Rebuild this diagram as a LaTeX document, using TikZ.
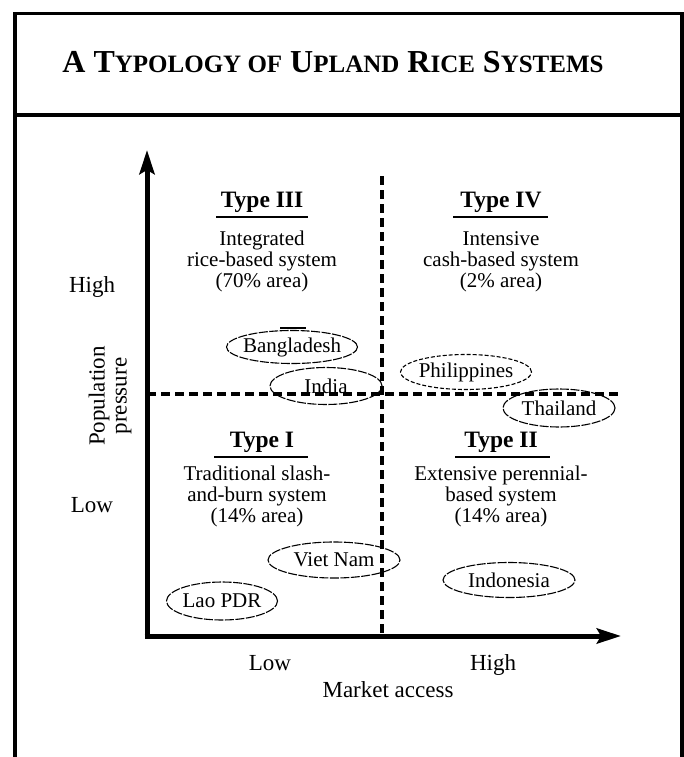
\documentclass[tikz,border=0pt]{standalone}
\usepackage{fontspec}
\setmainfont{Liberation Serif}
\usetikzlibrary{arrows.meta, shapes.geometric}
\newcommand\bodyfont{\fontsize{21}{21}\selectfont}
\newcommand\headfont{\fontsize{23.5}{24}\selectfont\bfseries}
\newcommand\axisfont{\fontsize{23}{22}\selectfont}
\newcommand\smc[1]{{\fontsize{25}{30}\selectfont #1}}
\tikzset{
frame/.style={line width=3.5pt}, % outer box and title rule
axis/.style={line width=5pt, -{Stealth[length=24pt, width=15pt, inset=4pt]}},
divider/.style={line width=3.2pt, dash pattern=on 9pt off 5pt},
country/.style={ellipse, draw, line width=1.1pt, dash pattern=on 9pt off 1.5pt,
  inner sep=0pt, label={[font=\bodyfont]center:#1}},
typehead/.style={font=\headfont, anchor=base},
typetext/.style={font=\bodyfont, align=center, anchor=base}, % base = last line
axislabel/.style={font=\axisfont, anchor=base},
underline/.style={line width=2.8pt},
}
\begin{document}
\begin{tikzpicture}[x=1pt, y=-1pt]
\useasboundingbox (0,0) rectangle (684,757);

% frame and title
\draw[frame] (15,757) -- (15,13.5) -- (682,13.5) -- (682,757);
\draw[frame] (15,115) -- (682,115);
\node[anchor=base, font=\fontsize{32}{36}\selectfont\bfseries] (title) at (333,73)
    {A T\smc{YPOLOGY OF} U\smc{PLAND} R\smc{ICE} S\smc{YSTEMS}};

% axes
\coordinate (origin) at (147,636);
\coordinate (ytip) at (147,150);
\coordinate (xtip) at (621,636);
\draw[axis] (origin) -- (ytip);
\draw[axis] (144.5,636) -- (xtip);

% quadrant dividers
\coordinate (vtop) at (382,176);
\coordinate (vbot) at (382,634);
\coordinate (hleft) at (147,394);
\coordinate (hright) at (620,394);
\draw[divider] (vtop) -- (vbot);
\draw[divider] (hleft) -- (hright);

% quadrants
\node[typehead] (t3) at (262,207) {Type III};
\draw[underline] (216,217) -- (308,217);
\node[typetext] (t3txt) at (262,287) {Integrated\\rice-based system\\(70\% area)};

\node[typehead] (t4) at (501,207) {Type IV};
\draw[underline] (453,217) -- (548,217);
\node[typetext] (t4txt) at (501,287) {Intensive\\cash-based system\\(2\% area)};

\node[typehead] (t1) at (262,447) {Type I};
\draw[underline] (214,457) -- (308,457);
\node[typetext] (t1txt) at (257,522) {Traditional slash-\\and-burn system\\(14\% area)};

\node[typehead] (t2) at (501,447) {Type II};
\draw[underline] (455,457) -- (550,457);
\node[typetext] (t2txt) at (501,522) {Extensive perennial-\\based system\\(14\% area)};

% countries
\node[country=Bangladesh, minimum width=131pt, minimum height=33pt] (bangladesh) at (292,347) {};
\draw[line width=1.1pt] (280,328) -- (306,328);
\node[country=India, minimum width=112pt, minimum height=37pt] (india) at (326,386) {};
\node[country=Philippines, minimum width=131pt, minimum height=35pt, dash pattern=on 4pt off 2pt] (philippines) at (466,372) {};
\node[country=Thailand, minimum width=112pt, minimum height=38pt] (thailand) at (559,408) {};
\node[country=Viet Nam, minimum width=132pt, minimum height=36pt] (vietnam) at (334,560) {};
\node[country=Lao PDR, minimum width=111pt, minimum height=38pt] (laos) at (222,601) {};
\node[country=Indonesia, minimum width=132pt, minimum height=35pt] (indonesia) at (509,580) {};

% axis labels
\node[axislabel] (yhigh) at (92,292) {High};
\node[axislabel] (ylow) at (92,512) {Low};
\node[font=\axisfont, align=center, rotate=90] (ylabel) at (110,396) {Population\\pressure};
\node[axislabel] (xlow) at (270,670) {Low};
\node[axislabel] (xhigh) at (493,670) {High};
\node[axislabel] (xlabel) at (388,697) {Market access};
\end{tikzpicture}
\end{document}
